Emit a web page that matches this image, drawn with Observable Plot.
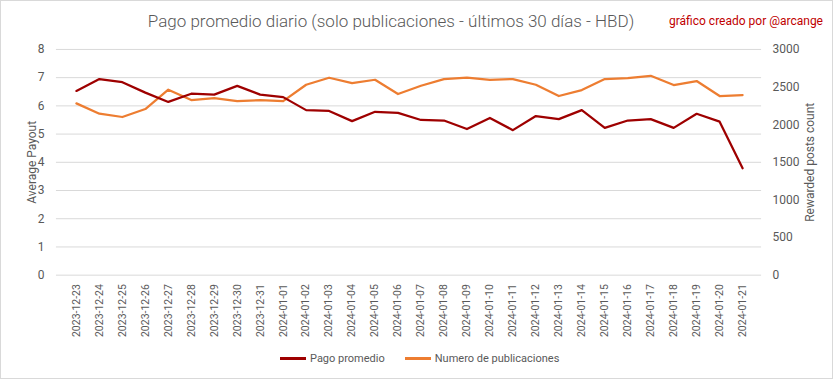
<!DOCTYPE html>
<html>
<head>
<meta charset="utf-8">
<script src="https://cdn.jsdelivr.net/npm/d3@7"></script>
<script src="https://cdn.jsdelivr.net/npm/@observablehq/plot@0.6"></script>
<style>
  html, body { margin: 0; padding: 0; background: #fff; }
  #wrap { position: relative; width: 831px; height: 377px; border: 1px solid #d9d9d9; overflow: hidden; font-family: Roboto, "Liberation Sans", sans-serif; }
  #title { position: absolute; top: 10px; left: 0; width: 780px; text-align: center; font-size: 17px; color: #595959; font-weight: 300; white-space: nowrap; }
  #credit { position: absolute; top: 13px; left: 668px; font-size: 12px; color: #c00000; white-space: nowrap; }
  #chart { position: absolute; top: -1px; left: -1px; }
  #legend { position: absolute; top: 351px; left: 279px; font-size: 11px; color: #595959; display: flex; align-items: center; white-space: nowrap; }
  .sw { display: inline-block; width: 26px; height: 2.5px; margin-right: 4px; }
  .item { display: flex; align-items: center; margin-right: 20px; }
</style>
</head>
<body>
<div id="wrap">
  <div id="title">Pago promedio diario (solo publicaciones - últimos 30 días - HBD)</div>
  <div id="credit">gráfico creado por @arcange</div>
  <div id="chart"></div>
  <div id="legend">
    <div class="item"><span class="sw" style="background:#9e0000"></span>Pago promedio</div>
    <div class="item"><span class="sw" style="background:#ed7d31"></span>Numero de publicaciones</div>
  </div>
</div>
<script>
const dates = ["2023-12-23","2023-12-24","2023-12-25","2023-12-26","2023-12-27","2023-12-28","2023-12-29","2023-12-30","2023-12-31","2024-01-01","2024-01-02","2024-01-03","2024-01-04","2024-01-05","2024-01-06","2024-01-07","2024-01-08","2024-01-09","2024-01-10","2024-01-11","2024-01-12","2024-01-13","2024-01-14","2024-01-15","2024-01-16","2024-01-17","2024-01-18","2024-01-19","2024-01-20","2024-01-21"];
const pagoPromedio = [6.53,6.95,6.84,6.47,6.14,6.43,6.40,6.71,6.40,6.31,5.85,5.82,5.46,5.79,5.75,5.50,5.48,5.18,5.57,5.14,5.64,5.53,5.85,5.22,5.48,5.53,5.22,5.72,5.44,3.79];
const numeroPublicaciones = [2283,2146,2102,2208,2465,2327,2354,2314,2327,2314,2531,2624,2553,2597,2407,2518,2606,2624,2597,2606,2531,2381,2460,2606,2620,2650,2527,2580,2381,2394];
const leftTicks = [0,1,2,3,4,5,6,7,8];
const rightTicks = [0,500,1000,1500,2000,2500,3000];
const ratio = 3000 / 8;

const rows = dates.map((d, i) => ({date: d, pago: pagoPromedio[i], count: numeroPublicaciones[i]}));

const ink = "#595959";
const plot = Plot.plot({
  width: 833,
  height: 347,
  marginTop: 49,
  marginBottom: 72,
  marginLeft: 56,
  marginRight: 71,
  style: {fontFamily: "Roboto, 'Liberation Sans', sans-serif", fontSize: "12px", color: ink, background: "transparent"},
  x: {type: "point", domain: dates, padding: 0.5},
  y: {domain: [0, 8]},
  marks: [
    Plot.gridY(leftTicks, {stroke: "#d9d9d9", strokeOpacity: 1, strokeWidth: 1}),
    Plot.axisY({anchor: "left", ticks: leftTicks, tickSize: 0, tickPadding: 12, label: null, fill: ink, fontSize: 12}),
    Plot.axisY({anchor: "right", ticks: rightTicks.map(v => v / ratio), tickFormat: d => String(Math.round(d * ratio)), tickSize: 0, tickPadding: 11, label: null, fill: ink, fontSize: 12}),
    Plot.axisX({tickRotate: -90, tickSize: 0, tickPadding: 9, label: null, fill: ink, fontSize: 10.5}),
    Plot.text(["Average Payout"], {frameAnchor: "left", dx: -24, rotate: -90, textAnchor: "middle", fill: ink, fontSize: 12}),
    Plot.text(["Rewarded posts count"], {frameAnchor: "right", dx: 49, rotate: -90, textAnchor: "middle", fill: ink, fontSize: 12}),
    Plot.line(rows, {x: "date", y: d => d.count / ratio, stroke: "#ed7d31", strokeWidth: 2.25, curve: "linear"}),
    Plot.line(rows, {x: "date", y: "pago", stroke: "#9e0000", strokeWidth: 2.25, curve: "linear"})
  ]
});
document.getElementById("chart").appendChild(plot);
</script>
</body>
</html>
